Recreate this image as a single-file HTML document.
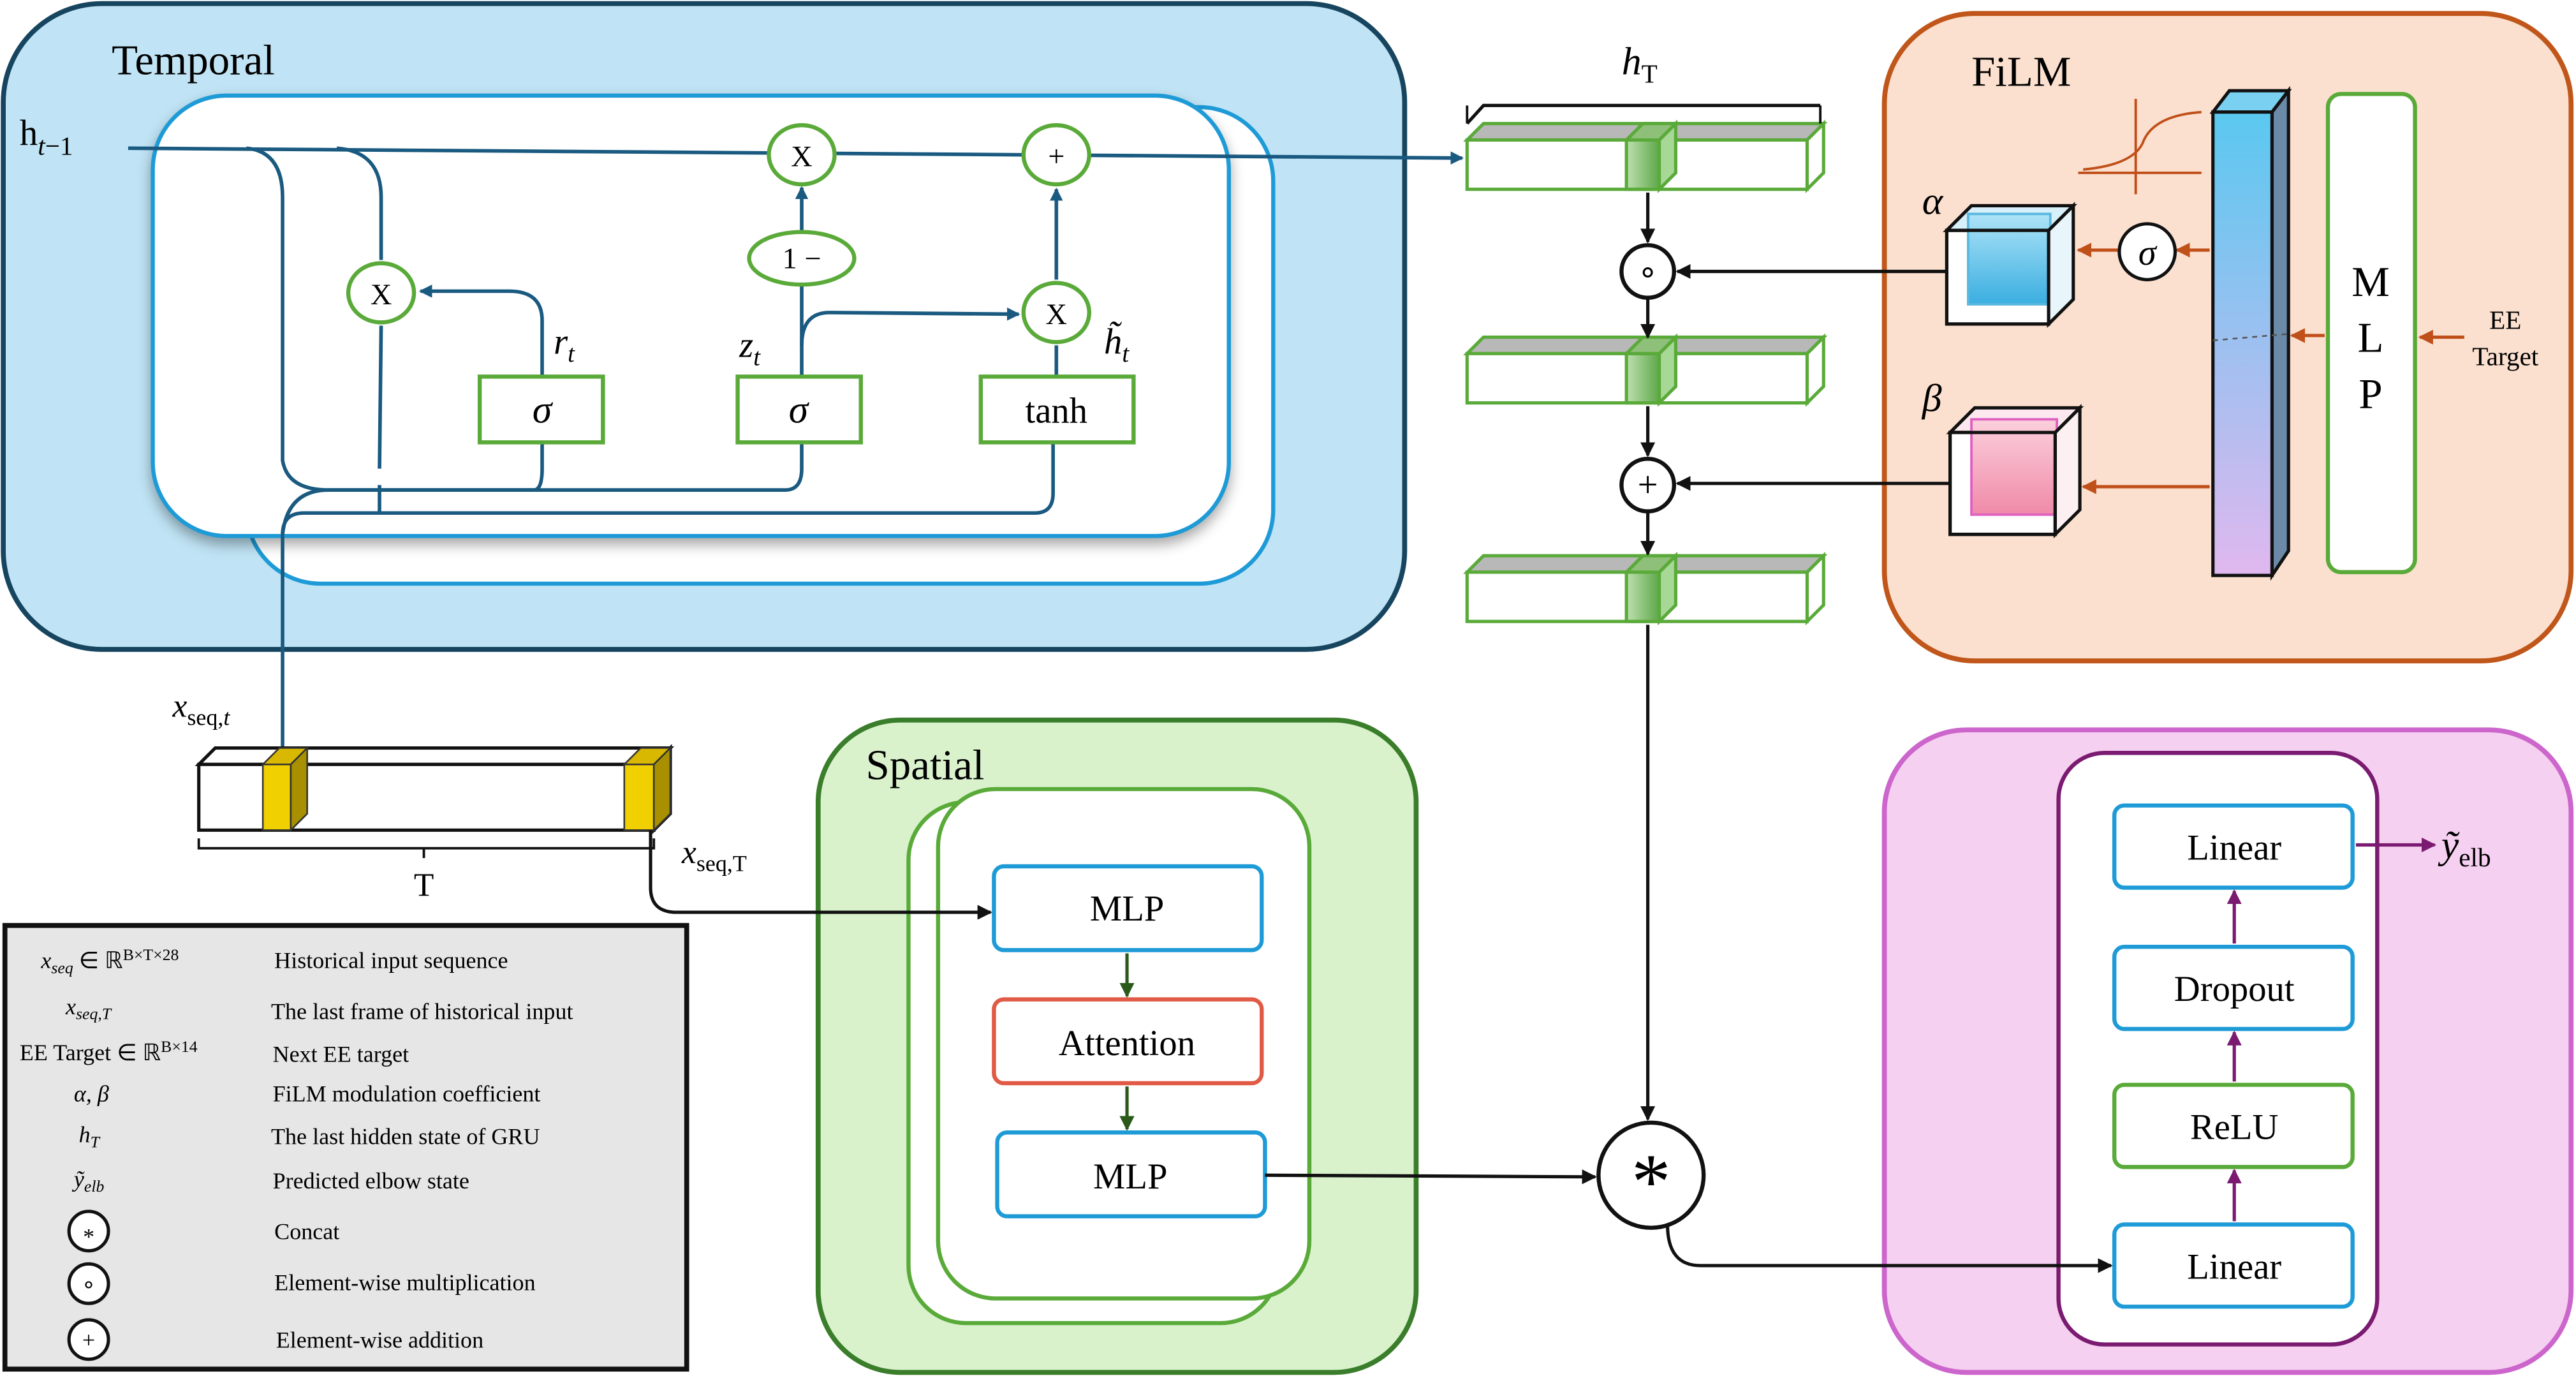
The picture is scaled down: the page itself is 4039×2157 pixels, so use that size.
<!DOCTYPE html>
<html><head><meta charset="utf-8"><style>
html,body{margin:0;padding:0;background:#fff;}
svg{display:block;}
text{font-family:"Liberation Serif",serif;}
</style></head><body>
<svg width="4039" height="2157" viewBox="0 0 1568 837" xmlns="http://www.w3.org/2000/svg">
<defs>
<marker id="an" markerWidth="8" markerHeight="8" refX="7" refY="4" orient="auto" markerUnits="userSpaceOnUse"><path d="M0,0 L8,4 L0,8z" fill="#1a5a80"/></marker>
<marker id="ak" markerWidth="9" markerHeight="9" refX="8" refY="4.5" orient="auto" markerUnits="userSpaceOnUse"><path d="M0,0 L9,4.5 L0,9z" fill="#111"/></marker>
<marker id="ag" markerWidth="9" markerHeight="9" refX="8" refY="4.5" orient="auto" markerUnits="userSpaceOnUse"><path d="M0,0 L9,4.5 L0,9z" fill="#2a5a1a"/></marker>
<marker id="ao" markerWidth="9" markerHeight="9" refX="8" refY="4.5" orient="auto" markerUnits="userSpaceOnUse"><path d="M0,0 L9,4.5 L0,9z" fill="#c0501a"/></marker>
<marker id="ap" markerWidth="9" markerHeight="9" refX="8" refY="4.5" orient="auto" markerUnits="userSpaceOnUse"><path d="M0,0 L9,4.5 L0,9z" fill="#7a1a70"/></marker>
<linearGradient id="bar" x1="0" y1="0" x2="0" y2="1"><stop offset="0" stop-color="#5ac8f0"/><stop offset="1" stop-color="#e0b8ef"/></linearGradient>
<linearGradient id="cb" x1="0" y1="0" x2="0" y2="1"><stop offset="0" stop-color="#aee4f8"/><stop offset="1" stop-color="#3aaee0"/></linearGradient>
<linearGradient id="cp" x1="0" y1="0" x2="0" y2="1"><stop offset="0" stop-color="#fbd0dc"/><stop offset="1" stop-color="#f08aa8"/></linearGradient>
<linearGradient id="sl" x1="0" y1="0" x2="1" y2="0"><stop offset="0" stop-color="#bde0b0"/><stop offset="1" stop-color="#5fa84a"/></linearGradient>
</defs>

<!-- Temporal -->
<rect x="2" y="2" width="853" height="393" rx="60" fill="#c0e4f5" stroke="#17455f" stroke-width="3"/>
<text x="68" y="45" font-size="26">Temporal</text>
<rect x="150" y="65" width="625" height="290" rx="45" fill="#fff" stroke="#1e9bd7" stroke-width="2.5"/>
<rect x="93" y="58" width="655" height="268" rx="45" fill="#fff" stroke="#1e9bd7" stroke-width="2.5" style="filter:drop-shadow(0 4px 4px rgba(0,0,0,.35))"/>
<text x="12" y="88" font-size="22">h<tspan font-style="italic" font-size="16" dy="6">t</tspan><tspan font-size="16">−1</tspan></text>
<g fill="none" stroke="#1a5a80" stroke-width="2.2">
<path d="M78,90 L890,96" marker-end="url(#an)"/>
<path d="M150,90 Q172,92 172,120 L172,280 Q175,298 200,298 L325,298 Q330,298 330,285 L330,269"/>
<path d="M200,298 L478,298 Q488,298 488,285 L488,269"/>
<path d="M205,90 Q232,92 232,120 L232,158"/>
<path d="M232,198 L231,285 M231,295 L231,312"/>
<path d="M330,229 L330,195 Q330,177 310,177 L256,177" marker-end="url(#an)"/>
<path d="M488,229 L488,172 M488,142 L488,114" marker-end="url(#an)"/>
<path d="M488,210 Q488,190 505,190 L620,191" marker-end="url(#an)"/>
<path d="M643,170 L643,115" marker-end="url(#an)"/>
<path d="M643,229 L643,210"/>
<path d="M641,269 L641,300 Q641,312 630,312 L185,312 Q172,312 172,325 L172,455"/>
<path d="M200,298 Q175,298 172,325" />
</g>
<g fill="#fff" stroke="#5aaa3a" stroke-width="2.5">
<ellipse cx="488" cy="94" rx="20" ry="18"/><ellipse cx="643" cy="94" rx="20" ry="18"/>
<ellipse cx="232" cy="178" rx="20" ry="18"/><ellipse cx="488" cy="157" rx="32" ry="16"/>
<ellipse cx="643" cy="190" rx="20" ry="18"/>
<rect x="292" y="229" width="75" height="40"/><rect x="449" y="229" width="75" height="40"/><rect x="597" y="229" width="93" height="40"/>
</g>
<g font-family="Liberation Sans,sans-serif" font-size="18" text-anchor="middle">
<text x="488" y="101">X</text><text x="643" y="101">+</text><text x="232" y="185">X</text><text x="488" y="163">1 −</text><text x="643" y="197">X</text>
</g>
<g font-size="24" text-anchor="middle"><text x="330" y="257" font-style="italic">σ</text><text x="486" y="257" font-style="italic">σ</text><text x="643" y="257" font-family="Liberation Sans,sans-serif" font-size="22">tanh</text></g>
<text x="337" y="215" font-size="22" font-style="italic">r<tspan font-size="15" dy="5">t</tspan></text>
<text x="450" y="217" font-size="22" font-style="italic">z<tspan font-size="15" dy="5">t</tspan></text>
<text x="672" y="215" font-size="22" font-style="italic">h̃<tspan font-size="15" dy="5">t</tspan></text>

<!-- input seq -->
<text x="105" y="436" font-size="20" font-style="italic">x<tspan font-size="14" dy="5" font-style="normal">seq,</tspan><tspan font-size="14">t</tspan></text>
<path d="M121,465 L131,455 L408,455 L398,465z" fill="#fff" stroke="#111" stroke-width="2"/>
<rect x="121" y="465" width="277" height="40" fill="#fff" stroke="#111" stroke-width="2"/>
<path d="M398,465 L408,455 L408,495 L398,505z" fill="#fff" stroke="#111" stroke-width="2"/>
<path d="M160,465 L170,455 L187,455 L177,465z M380,465 L390,455 L408,455 L398,465z" fill="#d8b800" stroke="#333"/>
<rect x="160" y="465" width="17" height="40" fill="#f0d000" stroke="#333"/>
<rect x="380" y="465" width="18" height="40" fill="#f0d000" stroke="#333"/>
<path d="M177,465 L187,455 L187,495 L177,505z M398,465 L408,455 L408,495 L398,505z" fill="#a89000" stroke="#333"/>
<path d="M121,510 L121,516 L398,516 L398,510 M258,516 L258,522" fill="none" stroke="#111" stroke-width="1.5"/>
<text x="258" y="545" font-size="20" text-anchor="middle" font-family="Liberation Sans,sans-serif">T</text>
<text x="415" y="525" font-size="20" font-style="italic">x<tspan font-size="14" dy="5" font-style="normal">seq,T</tspan></text>

<!-- h_T bars -->
<g stroke="#5aaa3a" stroke-width="2">
<path d="M893,75 L903,64 L1108,64" fill="none" stroke="#111"/>
<g id="hb">
<path d="M893,85 L903,75 L1110,75 L1100,85z" fill="#b8b8b8"/>
<rect x="893" y="85" width="207" height="30" fill="#fff"/>
<path d="M1100,85 L1110,75 L1110,105 L1100,115z" fill="#fff"/>
<rect x="990" y="85" width="20" height="30" fill="url(#sl)"/>
<path d="M990,85 L1000,75 L1020,75 L1010,85z" fill="#8fc07a"/>
<path d="M1010,85 L1020,75 L1020,105 L1010,115z" fill="#a8d896"/>
</g>
<use href="#hb" y="130"/>
<use href="#hb" y="263"/>
</g>
<path d="M893,64 L893,75 M1108,64 L1108,75" stroke="#111" stroke-width="1.5"/>
<text x="998" y="45" font-size="24" font-style="italic" text-anchor="middle">h<tspan font-size="16" font-style="normal" dy="5">T</tspan></text>

<!-- FiLM -->
<rect x="1147" y="8" width="418" height="394" rx="55" fill="#fbe0cf" stroke="#c0561a" stroke-width="3"/>
<text x="1200" y="52" font-size="26">FiLM</text>
<path d="M1265,105 L1340,105 M1300,118 L1300,60" stroke="#c0501a" stroke-width="1.5" fill="none"/>
<path d="M1268,103 Q1300,100 1305,85 Q1312,70 1340,68" stroke="#c0501a" stroke-width="1.5" fill="none"/>
<path d="M1347,68 L1357,55 L1393,55 L1383,68z" fill="#7ad0f0" stroke="#111" stroke-width="2"/>
<rect x="1347" y="68" width="36" height="282" fill="url(#bar)" stroke="#111" stroke-width="2"/>
<path d="M1383,68 L1393,55 L1393,335 L1383,350z" fill="#6a8aa8" stroke="#111" stroke-width="2"/>
<path d="M1347,207 L1393,203" stroke="#555" stroke-dasharray="3,3"/>
<rect x="1417" y="57" width="53" height="291" rx="8" fill="#fff" stroke="#5aaa3a" stroke-width="2.5"/>
<g font-size="26" text-anchor="middle"><text x="1443" y="180">M</text><text x="1443" y="214">L</text><text x="1443" y="248">P</text></g>
<text x="1525" y="200" font-size="16" text-anchor="middle">EE</text><text x="1525" y="222" font-size="16" text-anchor="middle">Target</text>
<g fill="none" stroke="#c0501a" stroke-width="2">
<path d="M1500,205 L1473,205" marker-end="url(#ao)"/>
<path d="M1415,204 L1395,204" marker-end="url(#ao)"/>
<path d="M1345,152 L1325,152" marker-end="url(#ao)"/>
<path d="M1289,152 L1265,152" marker-end="url(#ao)"/>
<path d="M1345,296 L1268,296" marker-end="url(#ao)"/>
</g>
<circle cx="1307" cy="153" r="17" fill="#fff" stroke="#111" stroke-width="2"/>
<text x="1307" y="161" font-size="22" font-style="italic" text-anchor="middle">σ</text>
<text x="1170" y="130" font-size="24" font-style="italic">α</text>
<text x="1170" y="250" font-size="24" font-style="italic">β</text>
<g stroke="#111" stroke-width="2">
<path d="M1185,140 L1200,125 L1262,125 L1247,140z" fill="#d8f0fa"/>
<rect x="1185" y="140" width="62" height="57" fill="#fff"/>
<rect x="1198" y="130" width="50" height="55" fill="url(#cb)" stroke="#5ab8e0" stroke-width="1.5"/>
<rect x="1185" y="140" width="62" height="57" fill="none"/>
<path d="M1247,140 L1262,125 L1262,182 L1247,197z" fill="#e8f6fc"/>
<path d="M1187,263 L1202,248 L1266,248 L1251,263z" fill="#fce8ee"/>
<rect x="1187" y="263" width="64" height="62" fill="#fff"/>
<rect x="1200" y="255" width="52" height="58" fill="url(#cp)" stroke="#e060c0" stroke-width="1.5"/>
<rect x="1187" y="263" width="64" height="62" fill="none"/>
<path d="M1251,263 L1266,248 L1266,310 L1251,325z" fill="#fdf0f3"/>
</g>

<!-- Spatial -->
<rect x="498" y="438" width="364" height="397" rx="50" fill="#d9f2cc" stroke="#3a7d2a" stroke-width="3"/>
<text x="527" y="474" font-size="26">Spatial</text>
<rect x="553" y="488" width="225" height="317" rx="35" fill="#fff" stroke="#5aaa3a" stroke-width="2.5"/>
<rect x="571" y="480" width="226" height="310" rx="35" fill="#fff" stroke="#5aaa3a" stroke-width="2.5"/>
<rect x="605" y="527" width="163" height="51" rx="6" fill="#fff" stroke="#1e9bd7" stroke-width="2.5"/>
<rect x="605" y="608" width="163" height="51" rx="6" fill="#fff" stroke="#e05a45" stroke-width="2.5"/>
<rect x="607" y="689" width="163" height="51" rx="6" fill="#fff" stroke="#1e9bd7" stroke-width="2.5"/>
<g font-size="22" text-anchor="middle"><text x="686" y="560">MLP</text><text x="686" y="642">Attention</text><text x="688" y="723">MLP</text></g>
<g fill="none" stroke="#2a5a1a" stroke-width="2"><path d="M686,580 L686,606" marker-end="url(#ag)"/><path d="M686,661 L686,687" marker-end="url(#ag)"/></g>

<!-- Output -->
<rect x="1147" y="444" width="418" height="391" rx="50" fill="#f5d0f0" stroke="#cc66cc" stroke-width="3"/>
<rect x="1253" y="458" width="194" height="360" rx="28" fill="#fff" stroke="#7a1a70" stroke-width="2.5"/>
<g fill="#fff" stroke="#1e9bd7" stroke-width="2.5">
<rect x="1287" y="490" width="145" height="50" rx="6"/><rect x="1287" y="576" width="145" height="50" rx="6"/>
<rect x="1287" y="660" width="145" height="50" rx="6" stroke="#5aaa3a"/><rect x="1287" y="745" width="145" height="50" rx="6"/>
</g>
<g font-size="22" text-anchor="middle"><text x="1360" y="523">Linear</text><text x="1360" y="609">Dropout</text><text x="1360" y="693">ReLU</text><text x="1360" y="778">Linear</text></g>
<g fill="none" stroke="#7a1a70" stroke-width="2">
<path d="M1360,743 L1360,712" marker-end="url(#ap)"/><path d="M1360,658 L1360,628" marker-end="url(#ap)"/><path d="M1360,574 L1360,542" marker-end="url(#ap)"/>
<path d="M1434,514 L1482,514" marker-end="url(#ap)"/>
</g>
<text x="1486" y="522" font-size="24" font-style="italic">ỹ<tspan font-size="16" font-style="normal" dy="5">elb</tspan></text>

<!-- black connectors on top -->
<g fill="none" stroke="#111" stroke-width="2">
<path d="M396,505 L396,540 Q396,555 412,555 L603,555" marker-end="url(#ak)"/>
<path d="M1003,117 L1003,147" marker-end="url(#ak)"/>
<path d="M1003,181 L1003,205" marker-end="url(#ak)"/>
<path d="M1003,247 L1003,277" marker-end="url(#ak)"/>
<path d="M1003,311 L1003,337" marker-end="url(#ak)"/>
<path d="M1003,380 L1003,681" marker-end="url(#ak)"/>
<path d="M1185,165 L1021,165" marker-end="url(#ak)"/>
<path d="M1187,294 L1021,294" marker-end="url(#ak)"/>
<path d="M770,715 L971,716" marker-end="url(#ak)"/>
<path d="M1015,745 Q1015,770 1035,770 L1285,770" marker-end="url(#ak)"/>
</g>
<g fill="#fff" stroke="#111" stroke-width="2.5">
<circle cx="1003" cy="165" r="16"/><circle cx="1003" cy="295" r="16"/><circle cx="1005" cy="715" r="32"/>
</g>
<text x="1003" y="172" font-size="20" text-anchor="middle">∘</text>
<text x="1003" y="302" font-size="22" text-anchor="middle">+</text>
<text x="1005" y="735" font-size="48" text-anchor="middle" font-family="Liberation Sans,sans-serif">*</text>

<!-- Legend -->
<rect x="3" y="563" width="415" height="270" fill="#e6e6e6" stroke="#111" stroke-width="3"/>
<g font-size="14">
<text x="25" y="589"><tspan font-style="italic">x</tspan><tspan font-size="10" font-style="italic" dy="3">seq</tspan><tspan dy="-3"> ∈ ℝ</tspan><tspan font-size="10" dy="-5">B×T×28</tspan></text>
<text x="40" y="617" font-style="italic">x<tspan font-size="10" dy="3">seq,T</tspan></text>
<text x="12" y="645">EE Target ∈ ℝ<tspan font-size="10" dy="-5">B×14</tspan></text>
<text x="45" y="670" font-style="italic">α, β</text>
<text x="48" y="695" font-style="italic">h<tspan font-size="10" dy="3">T</tspan></text>
<text x="45" y="722" font-style="italic">ỹ<tspan font-size="10" dy="3">elb</tspan></text>
<text x="167" y="589">Historical input sequence</text>
<text x="165" y="620">The last frame of historical input</text>
<text x="166" y="646">Next EE target</text>
<text x="166" y="670">FiLM modulation coefficient</text>
<text x="165" y="696">The last  hidden state of GRU</text>
<text x="166" y="723">Predicted elbow state</text>
<text x="167" y="754">Concat</text>
<text x="167" y="785">Element-wise multiplication</text>
<text x="168" y="820">Element-wise addition</text>
</g>
<g fill="#fff" stroke="#111" stroke-width="2"><circle cx="54" cy="749" r="12"/><circle cx="54" cy="781" r="12"/><circle cx="54" cy="815" r="12"/></g>
<g text-anchor="middle" font-size="14"><text x="54" y="757">*</text><text x="54" y="786">∘</text><text x="54" y="820">+</text></g>
</svg>
</body></html>
